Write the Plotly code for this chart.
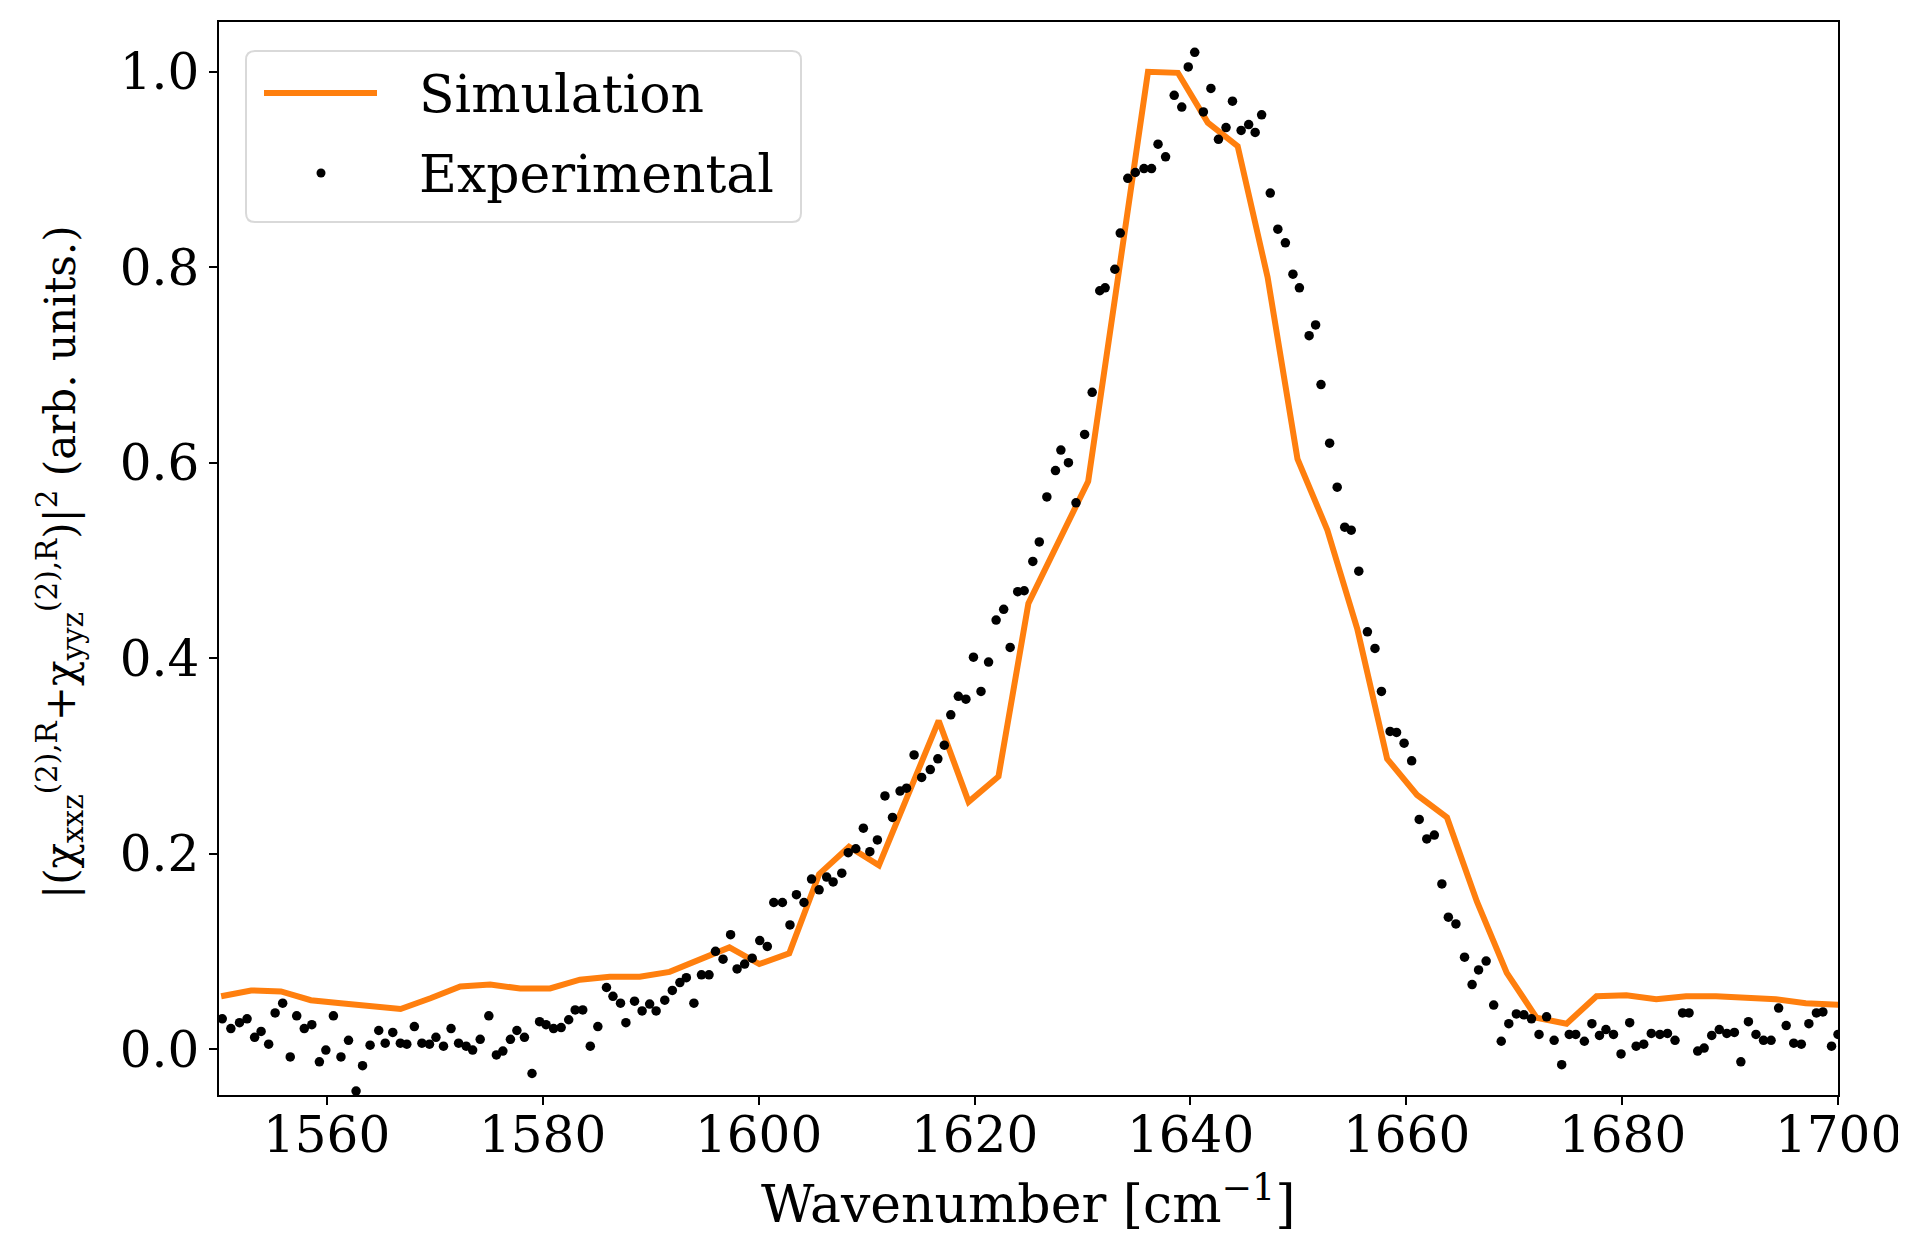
import plotly.graph_objects as go

# Simulation curve (wavenumber, intensity)
sim_x = [1550.2, 1552.97, 1555.74, 1558.51, 1561.28, 1564.05, 1566.82, 1569.59, 1572.36, 1575.13,
         1577.9, 1580.67, 1583.44, 1586.21, 1588.98, 1591.75, 1594.52, 1597.29, 1600.06, 1602.83,
         1605.6, 1608.37, 1611.14, 1613.91, 1616.68, 1619.45, 1622.22, 1624.99, 1627.76, 1630.53,
         1633.3, 1636.07, 1638.84, 1641.61, 1644.38, 1647.15, 1649.92, 1652.69, 1655.46, 1658.23,
         1661.0, 1663.77, 1666.54, 1669.31, 1672.08, 1674.85, 1677.62, 1680.39, 1683.16, 1685.93,
         1688.7, 1691.47, 1694.24, 1697.01, 1699.78, 1702.55]
sim_y = [0.054, 0.060, 0.059, 0.050, 0.047, 0.044, 0.041, 0.052, 0.064, 0.066,
         0.062, 0.062, 0.071, 0.074, 0.074, 0.079, 0.091, 0.104, 0.087, 0.098,
         0.179, 0.207, 0.188, 0.263, 0.336, 0.253, 0.279, 0.456, 0.520, 0.581,
         0.790, 1.000, 0.999, 0.948, 0.924, 0.790, 0.604, 0.531, 0.430, 0.297,
         0.260, 0.237, 0.151, 0.078, 0.032, 0.026, 0.054, 0.055, 0.051, 0.054,
         0.054, 0.053, 0.051, 0.047, 0.045, 0.044]

# Experimental points
exp_x = [1550.3, 1551.1, 1551.9, 1552.6, 1553.3, 1553.9, 1554.6, 1555.2, 1555.9, 1556.6,
         1557.2, 1557.9, 1558.6, 1559.3, 1559.9, 1560.6, 1561.3, 1562.0, 1562.7, 1563.3,
         1564.0, 1564.8, 1565.4, 1566.1, 1566.8, 1567.4, 1568.1, 1568.8, 1569.5, 1570.1,
         1570.8, 1571.5, 1572.2, 1572.9, 1573.5, 1574.2, 1575.0, 1575.7, 1576.3, 1577.0,
         1577.6, 1578.3, 1579.0, 1579.7, 1580.3, 1581.0, 1581.7, 1582.4, 1583.0, 1583.7,
         1584.4, 1585.1, 1585.9, 1586.5, 1587.2, 1587.7, 1588.5, 1589.2, 1589.9, 1590.5,
         1591.3, 1592.0, 1592.7, 1593.3, 1594.0, 1594.7, 1595.4, 1596.0, 1596.7, 1597.4,
         1598.0, 1598.7, 1599.4, 1600.1, 1600.8, 1601.4, 1602.2, 1602.9, 1603.5, 1604.2,
         1604.9, 1605.6, 1606.3, 1606.9, 1607.7, 1608.3, 1609.0, 1609.7, 1610.3, 1611.0,
         1611.7, 1612.4, 1613.1, 1613.7, 1614.4, 1615.1, 1615.9, 1616.6, 1617.2, 1617.8,
         1618.5, 1619.2, 1619.9, 1620.6, 1621.3, 1622.0, 1622.7, 1623.3, 1624.0, 1624.6,
         1625.4, 1626.0, 1626.7, 1627.5, 1628.0, 1628.7, 1629.4, 1630.2, 1630.9, 1631.6,
         1632.1, 1633.0, 1633.5, 1634.2, 1634.9, 1635.7, 1636.4, 1637.0, 1637.7, 1638.5,
         1639.2, 1639.8, 1640.4, 1641.2, 1641.9, 1642.6, 1643.3, 1643.9, 1644.7, 1645.4,
         1646.0, 1646.6, 1647.4, 1648.1, 1648.8, 1649.5, 1650.1, 1651.0, 1651.6, 1652.1,
         1652.9, 1653.6, 1654.3, 1654.9, 1655.6, 1656.4, 1657.1, 1657.7, 1658.5, 1659.1,
         1659.8, 1660.5, 1661.2, 1661.9, 1662.6, 1663.3, 1663.9, 1664.6, 1665.4, 1666.1,
         1666.7, 1667.4, 1668.1, 1668.8, 1669.5, 1670.2, 1670.9, 1671.6, 1672.3, 1673.0,
         1673.7, 1674.4, 1675.1, 1675.7, 1676.5, 1677.2, 1677.9, 1678.5, 1679.2, 1679.9,
         1680.7, 1681.3, 1682.0, 1682.7, 1683.5, 1684.2, 1684.9, 1685.6, 1686.2, 1687.0,
         1687.6, 1688.3, 1689.0, 1689.7, 1690.4, 1691.0, 1691.7, 1692.4, 1693.1, 1693.8,
         1694.5, 1695.2, 1695.9, 1696.6, 1697.3, 1698.0, 1698.6, 1699.4, 1700.0]
exp_y = [0.031, 0.021, 0.027, 0.031, 0.012, 0.018, 0.005, 0.037, 0.047, -0.008,
         0.034, 0.021, 0.025, -0.013, -0.001, 0.034, -0.008, 0.009, -0.043, -0.017,
         0.004, 0.019, 0.006, 0.017, 0.006, 0.005, 0.023, 0.006, 0.005, 0.012,
         0.003, 0.021, 0.006, 0.003, -0.001, 0.010, 0.034, -0.006, -0.002, 0.010,
         0.019, 0.012, -0.025, 0.028, 0.025, 0.021, 0.022, 0.030, 0.040, 0.040,
         0.003, 0.023, 0.063, 0.054, 0.047, 0.027, 0.049, 0.039, 0.046, 0.039,
         0.050, 0.060, 0.068, 0.073, 0.047, 0.076, 0.076, 0.100, 0.092, 0.117,
         0.082, 0.087, 0.093, 0.111, 0.105, 0.150, 0.150, 0.127, 0.158, 0.150,
         0.174, 0.163, 0.176, 0.171, 0.180, 0.201, 0.205, 0.226, 0.202, 0.214,
         0.259, 0.237, 0.264, 0.267, 0.301, 0.278, 0.286, 0.297, 0.311, 0.342,
         0.361, 0.358, 0.401, 0.366, 0.396, 0.439, 0.450, 0.411, 0.468, 0.469,
         0.499, 0.519, 0.565, 0.592, 0.613, 0.600, 0.559, 0.629, 0.672, 0.776,
         0.779, 0.798, 0.835, 0.891, 0.897, 0.901, 0.901, 0.926, 0.913, 0.976,
         0.964, 1.005, 1.020, 0.959, 0.983, 0.931, 0.943, 0.970, 0.940, 0.946,
         0.938, 0.956, 0.876, 0.839, 0.825, 0.793, 0.779, 0.730, 0.741, 0.680,
         0.620, 0.575, 0.534, 0.531, 0.489, 0.427, 0.410, 0.366, 0.325, 0.324,
         0.313, 0.295, 0.235, 0.215, 0.219, 0.169, 0.135, 0.128, 0.094, 0.066,
         0.081, 0.090, 0.045, 0.008, 0.026, 0.036, 0.035, 0.031, 0.015, 0.033,
         0.009, -0.016, 0.015, 0.015, 0.008, 0.026, 0.014, 0.020, 0.015, -0.005,
         0.027, 0.003, 0.005, 0.016, 0.015, 0.016, 0.009, 0.037, 0.037, -0.002,
         0.001, 0.014, 0.020, 0.016, 0.017, -0.013, 0.028, 0.015, 0.009, 0.009,
         0.042, 0.024, 0.006, 0.005, 0.026, 0.037, 0.038, 0.003, 0.015]

x_ticks = [1560, 1580, 1600, 1620, 1640, 1660, 1680, 1700]
x_ticklabels = ["1560", "1580", "1600", "1620", "1640", "1660", "1680", "1700"]
y_ticks = [0.0, 0.2, 0.4, 0.6, 0.8, 1.0]
y_ticklabels = ["0.0", "0.2", "0.4", "0.6", "0.8", "1.0"]
series_names = ["Simulation", "Experimental"]

FONT = "DejaVu Serif"
SIM_COLOR = "#ff7f0e"

# The page body adds an 8px margin; the figure is drawn 8px smaller and
# every reference pixel position is shifted by that offset.
OFF = 8
W, H = 1906 - OFF, 1234 - OFF
L, R, T, B = 219 - OFF, 1838 - OFF, 22 - OFF, 1095 - OFF
PW, PH = R - L, B - T


def px(X):
    return (X - OFF - L) / PW


def py(Y):
    return 1 - (Y - OFF - T) / PH


fig = go.Figure()
fig.add_trace(go.Scatter(x=sim_x, y=sim_y, mode="lines", name=series_names[0],
                         line=dict(color=SIM_COLOR, width=6), showlegend=False))
fig.add_trace(go.Scatter(x=exp_x, y=exp_y, mode="markers", name=series_names[1],
                         marker=dict(color="black", size=9.5), showlegend=False))

axis_common = dict(showline=True, linecolor="black", linewidth=1.5, mirror=True,
                   ticks="outside", ticklen=8, tickwidth=1.5, tickcolor="black",
                   showgrid=False, zeroline=False, automargin=False,
                   tickfont=dict(family=FONT, size=50, color="black"))

# legend (drawn as box + sample marks + text)
x0, x1, y0, y1 = px(246), px(801), py(222), py(51)
rx, ry = 9 / PW, 9 / PH
box_path = (f"M{x0+rx},{y0} L{x1-rx},{y0} Q{x1},{y0} {x1},{y0+ry} "
            f"L{x1},{y1-ry} Q{x1},{y1} {x1-rx},{y1} L{x0+rx},{y1} Q{x0},{y1} {x0},{y1-ry} "
            f"L{x0},{y0+ry} Q{x0},{y0} {x0+rx},{y0} Z")
shapes = [
    dict(type="path", path=box_path, xref="paper", yref="paper",
         fillcolor="rgba(255,255,255,0.8)", line=dict(color="#d9d9d9", width=2), layer="above"),
    dict(type="line", xref="paper", yref="paper", x0=px(264), x1=px(377), y0=py(93), y1=py(93),
         line=dict(color=SIM_COLOR, width=6), layer="above"),
    dict(type="circle", xref="paper", yref="paper",
         x0=px(321 - 4.5), x1=px(321 + 4.5), y0=py(173 + 4.5), y1=py(173 - 4.5),
         fillcolor="black", line=dict(color="black", width=0), layer="above"),
]
annotations = [
    dict(text=series_names[0], xref="paper", yref="paper", x=px(417), y=py(94),
         xanchor="left", yanchor="middle", showarrow=False,
         font=dict(family=FONT, size=52, color="black")),
    dict(text=series_names[1], xref="paper", yref="paper", x=px(417), y=py(174),
         xanchor="left", yanchor="middle", showarrow=False,
         font=dict(family=FONT, size=52, color="black")),
    dict(text="Wavenumber [cm<sup>−1</sup>]", xref="paper", yref="paper",
         x=0.5, y=py(1200), xanchor="center", yanchor="middle", showarrow=False,
         font=dict(family=FONT, size=52, color="black")),
    dict(text="|(χ<sub>xxz</sub><sup>(2),R</sup>+χ<sub>yyz</sub><sup>(2),R</sup>)|<sup>2</sup> (arb. units.)",
         xref="paper", yref="paper", x=px(60), y=py(562), xanchor="center", yanchor="middle",
         textangle=-90, showarrow=False, font=dict(family=FONT, size=42, color="black")),
]
# x tick labels placed on the data scale
for v, lab in zip(x_ticks, x_ticklabels):
    annotations.append(dict(text=lab, xref="x", yref="paper", x=v, y=py(1135),
                            xanchor="center", yanchor="middle", showarrow=False,
                            font=dict(family=FONT, size=50, color="black")))

fig.update_layout(
    width=W, height=H,
    margin=dict(l=L, r=W - R, t=T, b=H - B),
    plot_bgcolor="white", paper_bgcolor="white",
    font=dict(family=FONT, size=50, color="black"),
    showlegend=False,
    shapes=shapes,
    annotations=annotations,
    xaxis=dict(range=[1550, 1700], tickvals=x_ticks, showticklabels=False, **axis_common),
    yaxis=dict(range=[-0.047, 1.051], tickvals=y_ticks, ticktext=y_ticklabels, **axis_common),
)

fig.write_html("out.html")
